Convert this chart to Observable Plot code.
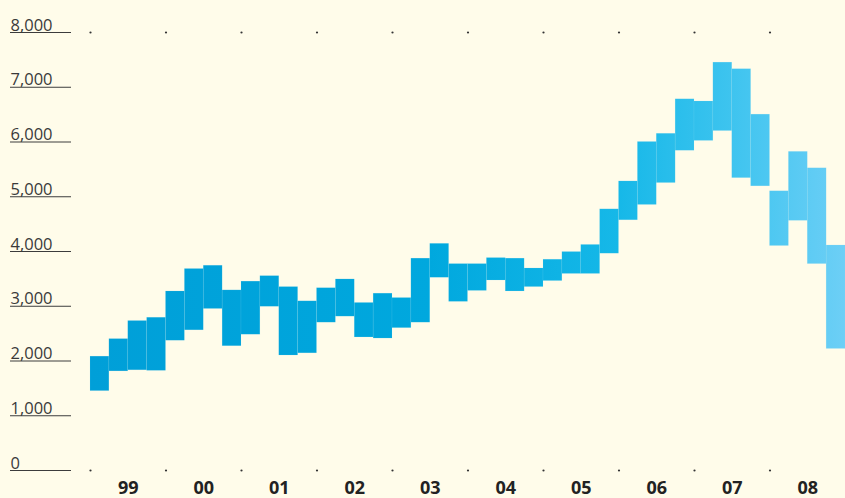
<!DOCTYPE html>
<html>
<head>
<meta charset="utf-8">
<script src="https://cdn.jsdelivr.net/npm/d3@7"></script>
<script src="https://cdn.jsdelivr.net/npm/@observablehq/plot@0.6"></script>
<style>
  html, body { margin: 0; padding: 0; background: #fffcea; }
  #chart svg { display: block; }
</style>
</head>
<body>
<div id="chart"></div>
<script>
// Quarterly ranges, 1999 Q1 – 2008 Q4
const years = [1999, 2000, 2001, 2002, 2003, 2004, 2005, 2006, 2007, 2008];
const yearLabels = ["99", "00", "01", "02", "03", "04", "05", "06", "07", "08"];
const quarters = [1, 2, 3, 4];
const highs = [
  2080, 2400, 2730, 2790,
  3270, 3680, 3740, 3290,
  3450, 3550, 3350, 3090,
  3330, 3490, 3060, 3230,
  3150, 3870, 4140, 3770,
  3770, 3880, 3870, 3690,
  3850, 3990, 4120, 4770,
  5280, 6000, 6150, 6780,
  6740, 7450, 7330, 6500,
  5100, 5820, 5520, 4110
];
const lows = [
  1450, 1810, 1830, 1820,
  2370, 2560, 2950, 2270,
  2480, 2990, 2100, 2140,
  2700, 2810, 2430, 2410,
  2600, 2700, 3520, 3080,
  3280, 3470, 3270, 3350,
  3460, 3590, 3590, 3960,
  4570, 4850, 5250, 5840,
  6020, 6200, 5340, 5190,
  4100, 4560, 3770, 2220
];
const yTicks = [0, 1000, 2000, 3000, 4000, 5000, 6000, 7000, 8000];

const data = [];
years.forEach((yr, i) => quarters.forEach((q, j) => {
  const k = i * 4 + j;
  data.push({start: yr + (q - 1) / 4, end: yr + q / 4, low: lows[k], high: highs[k]});
}));

const fmt = d3.format(",");

const chart = Plot.plot({
  width: 845,
  height: 498,
  marginLeft: 90,
  marginRight: 0,
  marginTop: 32,
  marginBottom: 28,
  style: {background: "#fffcea", fontFamily: "Open Sans, sans-serif"},
  x: {domain: [1999, 2009], axis: null},
  y: {domain: [0, 8000], axis: null},
  marks: [
    Plot.rect(data, {
      x1: "start", x2: "end", y1: "low", y2: "high",
      fill: "url(#bandGrad)",
      stroke: "#9fdcf5", strokeOpacity: 0.18, strokeWidth: 0.6
    }),
    Plot.axisY({
      ticks: yTicks, tickSize: 61, dx: -19,
      tickFormat: () => "", stroke: "#3c3c3c", strokeWidth: 1
    }),
    Plot.text(yTicks, {
      y: d => d, frameAnchor: "left", dx: -80,
      text: d => fmt(d), textAnchor: "start", lineAnchor: "bottom", dy: -2,
      fontSize: 16.5, fill: "#3a3a3a"
    }),
    Plot.dot(years, {x: d => d, y: () => 8000, r: 1.1, fill: "#333", stroke: null}),
    Plot.dot(years, {x: d => d, y: () => 0, r: 1.1, fill: "#333", stroke: null}),
    Plot.text(years, {
      x: d => d + 0.5, y: () => 0, text: (d, i) => yearLabels[i],
      dy: 18, fontSize: 18, fontWeight: "bold", fill: "#222"
    })
  ]
});

// horizontal colour gradient across the plot area
const svg = d3.select(chart);
const defs = svg.insert("defs", ":first-child");
const grad = defs.append("linearGradient")
  .attr("id", "bandGrad")
  .attr("gradientUnits", "userSpaceOnUse")
  .attr("x1", 90).attr("x2", 845).attr("y1", 0).attr("y2", 0);
grad.append("stop").attr("offset", "0").attr("stop-color", "#009fd8");
grad.append("stop").attr("offset", "0.45").attr("stop-color", "#00a8de");
grad.append("stop").attr("offset", "0.7").attr("stop-color", "#16b8e8");
grad.append("stop").attr("offset", "0.85").attr("stop-color", "#3ec4ef");
grad.append("stop").attr("offset", "1").attr("stop-color", "#6dcff6");

document.getElementById("chart").appendChild(chart);
</script>
</body>
</html>
